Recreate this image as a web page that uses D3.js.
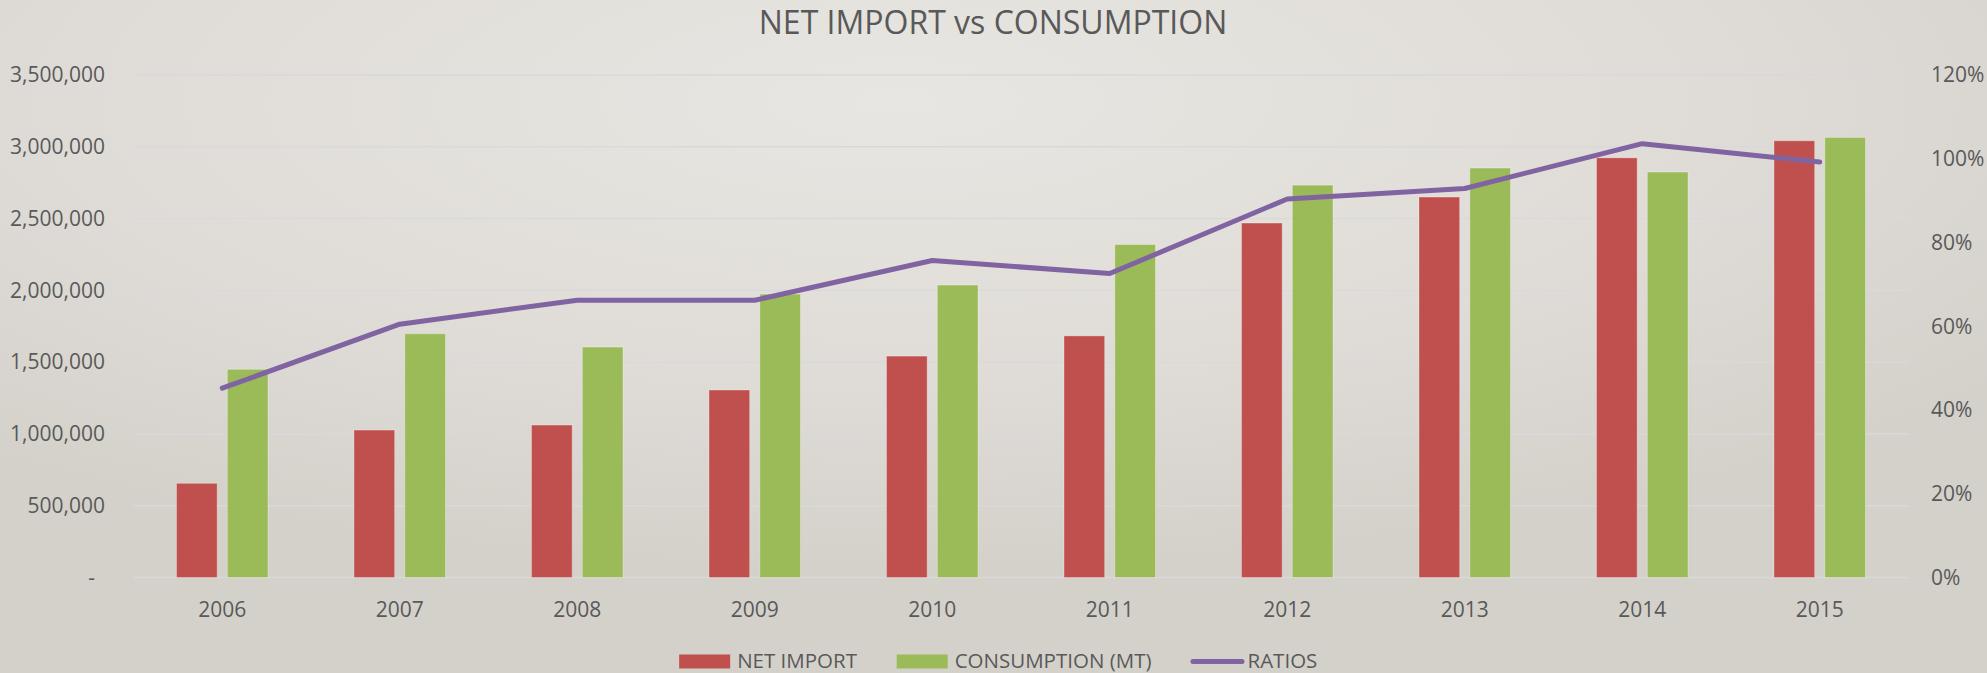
<!DOCTYPE html>
<html>
<head>
<meta charset="utf-8">
<script src="https://cdn.jsdelivr.net/npm/d3@7"></script>
<style>
  html, body { margin: 0; padding: 0; }
  body { width: 1987px; height: 673px; overflow: hidden; }
  text { font-family: "Open Sans", "Noto Sans", sans-serif; fill: #595959; }
</style>
</head>
<body>
<div id="chart"></div>
<script>
var years = ["2006", "2007", "2008", "2009", "2010", "2011", "2012", "2013", "2014", "2015"];
var netImport = [656000, 1027000, 1062000, 1306000, 1542000, 1683000, 2469000, 2650000, 2923000, 3042000];
var consumption = [1450000, 1698000, 1605000, 1974000, 2037000, 2319000, 2733000, 2852000, 2824000, 3065000];
var ratios = [0.452, 0.605, 0.662, 0.662, 0.757, 0.726, 0.904, 0.929, 1.036, 0.992];
var leftTicks = [0, 500000, 1000000, 1500000, 2000000, 2500000, 3000000, 3500000];
var rightTicks = [0, 0.2, 0.4, 0.6, 0.8, 1.0, 1.2];
var seriesNames = ["NET IMPORT", "CONSUMPTION (MT)", "RATIOS"];
var colors = ["#C0504D", "#9BBB59", "#8064A2"];

var W = 1987, H = 673;
var plot = { left: 133.5, right: 1908.5, top: 75, bottom: 577.5 };

var svg = d3.select("#chart")
  .append("svg")
  .attr("width", W)
  .attr("height", H);

// background gradient
var defs = svg.append("defs");
var grad = defs.append("radialGradient")
  .attr("id", "bg")
  .attr("cx", "45%").attr("cy", "15%").attr("r", "70%");
grad.append("stop").attr("offset", "0%").attr("stop-color", "#e8e6e2");
grad.append("stop").attr("offset", "60%").attr("stop-color", "#dfdcd7");
grad.append("stop").attr("offset", "100%").attr("stop-color", "#d4d1cb");
svg.append("rect").attr("width", W).attr("height", H).attr("fill", "url(#bg)");

var x = d3.scaleBand()
  .domain(years)
  .range([plot.left, plot.right])
  .paddingInner(0).paddingOuter(0);

var x1 = d3.scaleBand()
  .domain([0, 1])
  .range([-45.75, 45.75])
  .paddingInner(0.2);

var y = d3.scaleLinear()
  .domain([0, 3500000])
  .range([plot.bottom, plot.top]);

var yr = d3.scaleLinear()
  .domain([0, 1.2])
  .range([plot.bottom, plot.top]);

// gridlines
svg.append("g")
  .selectAll("line")
  .data(leftTicks)
  .enter()
  .append("line")
  .attr("x1", plot.left)
  .attr("x2", plot.right)
  .attr("y1", function(d) { return y(d); })
  .attr("y2", function(d) { return y(d); })
  .attr("stroke", "#d9d9d9")
  .attr("stroke-width", 1.4);

// left axis labels
var fmt = d3.format(",");
svg.append("g")
  .selectAll("text")
  .data(leftTicks)
  .enter()
  .append("text")
  .attr("x", function(d) { return d === 0 ? 95 : 105; })
  .attr("y", function(d) { return y(d); })
  .attr("dy", "0.35em")
  .attr("text-anchor", "end")
  .attr("font-size", 21)
  .text(function(d) { return d === 0 ? "-" : fmt(d); });

// right axis labels
var pct = d3.format(".0%");
svg.append("g")
  .selectAll("text")
  .data(rightTicks)
  .enter()
  .append("text")
  .attr("x", 1931)
  .attr("y", function(d) { return yr(d); })
  .attr("dy", "0.35em")
  .attr("font-size", 21)
  .text(function(d) { return pct(d); });

// x labels
svg.append("g")
  .selectAll("text")
  .data(years)
  .enter()
  .append("text")
  .attr("x", function(d) { return x(d) + x.bandwidth() / 2; })
  .attr("y", 617)
  .attr("text-anchor", "middle")
  .attr("font-size", 21)
  .text(function(d) { return d; });

// bars
var barData = [netImport, consumption];
barData.forEach(function(vals, s) {
  svg.append("g")
    .selectAll("rect")
    .data(vals)
    .enter()
    .append("rect")
    .attr("x", function(d, i) { return x(years[i]) + x.bandwidth() / 2 + x1(s); })
    .attr("width", x1.bandwidth())
    .attr("y", function(d) { return y(d); })
    .attr("height", function(d) { return y(0) - y(d); })
    .attr("fill", colors[s])
    .attr("stroke", "rgba(255,255,255,0.3)")
    .attr("stroke-width", 1);
});

// ratio line
var line = d3.line()
  .x(function(d, i) { return x(years[i]) + x.bandwidth() / 2; })
  .y(function(d) { return yr(d); });

svg.append("path")
  .datum(ratios)
  .attr("d", line)
  .attr("fill", "none")
  .attr("stroke", colors[2])
  .attr("stroke-width", 5)
  .attr("stroke-linejoin", "round")
  .attr("stroke-linecap", "round");

// title
svg.append("text")
  .attr("x", 993)
  .attr("y", 34)
  .attr("text-anchor", "middle")
  .attr("font-size", 32)
  .text("NET IMPORT vs CONSUMPTION");

// legend
var legend = svg.append("g");
var ly = 661;
var items = legend.selectAll("g")
  .data(seriesNames)
  .enter()
  .append("g");

items.each(function(d, i) {
  var g = d3.select(this);
  if (i < 2) {
    g.append("rect")
      .attr("x", 0).attr("y", ly - 6.5)
      .attr("width", 51).attr("height", 14)
      .attr("fill", colors[i]);
  } else {
    g.append("line")
      .attr("x1", 2.5).attr("x2", 51.5)
      .attr("y1", ly + 0.5).attr("y2", ly + 0.5)
      .attr("stroke", colors[i])
      .attr("stroke-width", 5)
      .attr("stroke-linecap", "round");
  }
  g.append("text")
    .attr("x", i < 2 ? 58 : 57)
    .attr("y", ly)
    .attr("dy", "0.35em")
    .attr("font-size", 20.5)
    .text(d);
});

var widths = [];
items.each(function() { widths.push(this.getBBox().width); });
var total = d3.sum(widths) + 39 * (widths.length - 1);
var cur = 997 - total / 2;
items.attr("transform", function(d, i) {
  var t = "translate(" + cur + ",0)";
  cur += widths[i] + 39;
  return t;
});
</script>
</body>
</html>
